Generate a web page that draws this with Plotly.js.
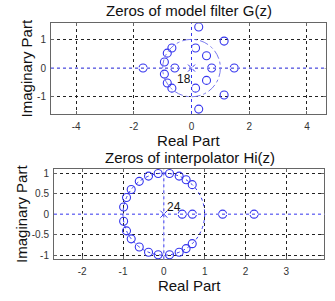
<!DOCTYPE html>
<html><head><meta charset="utf-8">
<script src="https://cdn.plot.ly/plotly-3.0.1.min.js"></script>
<style>html,body{margin:0;padding:0;background:#fff;} #chart{width:335px;height:301px;}</style>
</head><body><div id="chart"></div>
<script>
// Zeros of model filter G(z)
const gZerosRe = [-1.68, -0.58, 0.70, 1.48, 0.25, 0.25, 1.13, 1.13, 0.14, 0.14, 0.52, 0.52, -0.68, -0.68, -0.84, -0.84, -0.94, -0.94];
const gZerosIm = [0, 0, 0, 0, 1.43, -1.43, 0.94, -0.94, 0.70, -0.70, 0.43, -0.43, 0.70, -0.70, 0.52, -0.52, 0.21, -0.21];
const gPoleRe = [0];
const gPoleIm = [0];
const gPoleLabel = '18';
const gXTicks = [-4, -2, 0, 2, 4];
const gXTickText = ['-4', '-2', '0', '2', '4'];
const gYTicks = [-1, 0, 1];
const gYTickText = ['-1', '0', '1'];

// Zeros of interpolator Hi(z)
const hZerosRe = [0.45, 0.70, 1.44, 2.21,
  -0.985, -0.985, -0.914, -0.914, -0.799, -0.799, -0.602, -0.602, -0.375, -0.375,
  -0.139, -0.139, 0.139, 0.139, 0.375, 0.375, 0.545, 0.545, 0.695, 0.695];
const hZerosIm = [0, 0, 0, 0,
  0.174, -0.174, 0.407, -0.407, 0.602, -0.602, 0.799, -0.799, 0.927, -0.927,
  0.990, -0.990, 0.990, -0.990, 0.927, -0.927, 0.839, -0.839, 0.719, -0.719];
const hPoleRe = [0];
const hPoleIm = [0];
const hPoleLabel = '24';
const hXTicks = [-2, -1, 0, 1, 2, 3];
const hXTickText = ['-2', '-1', '0', '1', '2', '3'];
const hYTicks = [-1, -0.5, 0, 0.5, 1];
const hYTickText = ['-1', '-0.5', '0', '0.5', '1'];

const blue = '#3535ee';
const FONT = 'Liberation Sans, Arial, sans-serif';

function zerosTrace(x, y, xa, ya) {
  return {x: x, y: y, xaxis: xa, yaxis: ya, type: 'scatter', mode: 'markers',
    marker: {symbol: 'circle-open', size: 8, color: blue, line: {width: 1.1, color: blue}},
    hoverinfo: 'x+y', showlegend: false};
}
function poleTrace(x, y, xa, ya) {
  return {x: x, y: y, xaxis: xa, yaxis: ya, type: 'scatter', mode: 'markers',
    marker: {symbol: 'x-thin-open', size: 7, color: blue, line: {width: 1, color: blue}},
    showlegend: false};
}

const data = [
  zerosTrace(gZerosRe, gZerosIm, 'x', 'y'),
  poleTrace(gPoleRe, gPoleIm, 'x', 'y'),
  zerosTrace(hZerosRe, hZerosIm, 'x2', 'y2'),
  poleTrace(hPoleRe, hPoleIm, 'x2', 'y2')
];

function axisBase(extra) {
  return Object.assign({
    showgrid: true, gridcolor: '#222', griddash: 'dot', gridwidth: 1,
    zeroline: false, showline: true, mirror: 'ticks', linecolor: '#666', linewidth: 1,
    ticks: 'inside', ticklen: 3, tickcolor: '#666', tickmode: 'array',
    tickfont: {size: 10, color: '#333', family: FONT}, automargin: false,
    fixedrange: true
  }, extra);
}

function zeroLines(xa, ya) {
  const white = {color: '#fff', width: 1.5, dash: 'solid'};
  const dot = {color: blue, width: 1, dash: 'dot'};
  return [
    {type: 'line', xref: xa + ' domain', yref: ya, x0: 0, x1: 1, y0: 0, y1: 0, line: white},
    {type: 'line', xref: xa, yref: ya + ' domain', x0: 0, x1: 0, y0: 0, y1: 1, line: white},
    {type: 'line', xref: xa + ' domain', yref: ya, x0: 0, x1: 1, y0: 0, y1: 0, line: dot},
    {type: 'line', xref: xa, yref: ya + ' domain', x0: 0, x1: 0, y0: 0, y1: 1, line: dot}
  ];
}

const layout = {
  width: 335, height: 301,
  margin: {l: 0, r: 0, t: 0, b: 0},
  paper_bgcolor: '#fff', plot_bgcolor: '#fff',
  font: {family: FONT, color: '#111'},
  showlegend: false,
  xaxis: axisBase({domain: [0.1522, 0.9722], range: [-4.87, 4.65], anchor: 'y',
    tickvals: gXTicks, ticktext: gXTickText, ticklabelstandoff: 3,
    title: {text: 'Real Part', font: {size: 15, color: '#111'}, standoff: 0}}),
  yaxis: axisBase({domain: [0.6213, 0.9226], range: [-1.6, 1.56], anchor: 'x',
    tickvals: gYTicks, ticktext: gYTickText, ticklabelstandoff: 2,
    title: {text: 'Imaginary Part', font: {size: 15, color: '#111'}, standoff: 0}}),
  xaxis2: axisBase({domain: [0.1612, 0.9681], range: [-2.69, 3.93], anchor: 'y2',
    tickvals: hXTicks, ticktext: hXTickText, ticklabelstandoff: 3,
    title: {text: 'Real Part', font: {size: 15, color: '#111'}, standoff: 0}}),
  yaxis2: axisBase({domain: [0.1385, 0.4385], range: [-1.1, 1.1], anchor: 'x2',
    tickvals: hYTicks, ticktext: hYTickText, ticklabelstandoff: 2,
    title: {text: 'Imaginary Part', font: {size: 15, color: '#111'}, standoff: 0}}),
  shapes: [].concat(
    zeroLines('x', 'y'),
    [{type: 'circle', xref: 'x', yref: 'y', x0: -1, x1: 1, y0: -1, y1: 1, line: {color: '#7a7aee', width: 1, dash: 'dashdot'}}],
    zeroLines('x2', 'y2'),
    [{type: 'circle', xref: 'x2', yref: 'y2', x0: -1, x1: 1, y0: -1, y1: 1, line: {color: blue, width: 1, dash: 'dot'}}]
  ),
  annotations: [
    {text: 'Zeros of model filter G(z)', xref: 'paper', yref: 'paper', x: 0.5627, y: 0.9635,
      xanchor: 'center', yanchor: 'middle', showarrow: false, font: {size: 15, color: '#111'}},
    {text: 'Zeros of interpolator Hi(z)', xref: 'paper', yref: 'paper', x: 0.567, y: 0.476,
      xanchor: 'center', yanchor: 'middle', showarrow: false, font: {size: 15, color: '#111'}},
    {text: gPoleLabel, xref: 'x', yref: 'y', x: -0.26, y: -0.38, showarrow: false,
      xanchor: 'center', yanchor: 'middle', font: {size: 12, color: '#111'}},
    {text: hPoleLabel, xref: 'x2', yref: 'y2', x: 0.245, y: 0.185, showarrow: false,
      xanchor: 'center', yanchor: 'middle', font: {size: 12, color: '#111'}}
  ]
};

Plotly.newPlot('chart', data, layout, {staticPlot: true, displayModeBar: false});
</script>
</body></html>
